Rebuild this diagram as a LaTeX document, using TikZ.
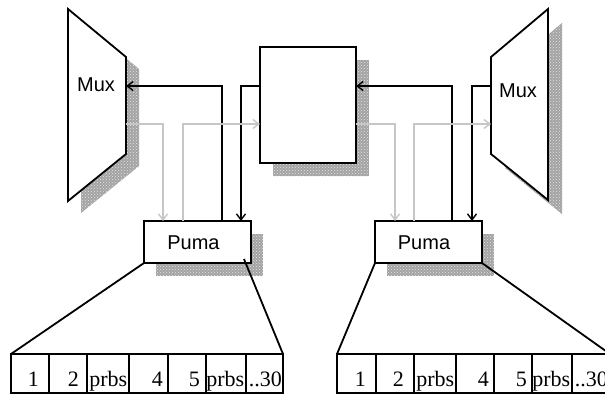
\documentclass[tikz,border=0pt]{standalone}
\usepackage{fontspec}
\setmainfont{Liberation Serif}
\newfontfamily\arialfont{Liberation Sans}
\usetikzlibrary{arrows.meta,patterns,calc}

\tikzset{
  blk/.style={line width=1.8pt, draw=black},
  gry/.style={line width=1.6pt, draw=gray!45},
  arr/.style={-{Straight Barb[length=6pt,width=9pt,line width=1.4pt]}},
  shade/.style={fill=gray!72},
  shadedots/.style={pattern=crosshatch dots, pattern color=white!80!gray},
  boxnode/.style={draw=black, line width=1.8pt, fill=white, inner sep=0pt, outer sep=0pt},
  sanslabel/.style={font=\arialfont\fontsize{20}{24}\selectfont, inner sep=0pt},
  cellbox/.style={draw=black, line width=1.8pt, inner sep=0pt, outer sep=0pt,
    minimum height=39pt, anchor=north west},
  celltext/.style={font=\fontsize{22}{26}\selectfont, inner sep=0pt, anchor=base east}
}

\begin{document}
\begin{tikzpicture}[x=1pt,y=-1pt]
\useasboundingbox (0,0) rectangle (605,397);
\clip (0,0) rectangle (605,397);

% ---- drop shadows ----
\foreach \s in {shade,shadedots}{
  \path[\s] (81,21) -- (139,69) -- (139,166) -- (81,213) -- cycle;
  \path[\s] (273,60) rectangle (369,176);
  \path[\s] (562,23) -- (505,71) -- (505,168) -- (562,214) -- cycle;
  \path[\s] (156,234) rectangle (263,276);
  \path[\s] (387,234) rectangle (494,276);
}

% ---- multiplexers ----
\coordinate (mL1) at (68,9);
\coordinate (mL2) at (126,57);
\coordinate (mL3) at (126,154);
\coordinate (mL4) at (68,201);
\filldraw[blk, fill=white, line join=miter] (mL1) -- (mL2) -- (mL3) -- (mL4) -- cycle;
\node[sanslabel] (muxLtxt) at (96,85) {Mux};

\coordinate (mR1) at (548,9);
\coordinate (mR2) at (491,57);
\coordinate (mR3) at (491,154);
\coordinate (mR4) at (548,200);
\filldraw[blk, fill=white, line join=miter] (mR1) -- (mR2) -- (mR3) -- (mR4) -- cycle;
\node[sanslabel] (muxRtxt) at (518,91) {Mux};

% ---- central block ----
\node[boxnode, minimum width=96pt, minimum height=116pt] (ctr) at (308,105) {};

% ---- Puma blocks ----
\node[boxnode, minimum width=107pt, minimum height=42pt] (pumaL) at (197.5,242) {};
\node[sanslabel] (pumaLtxt) at (193.5,243) {Puma};
\node[boxnode, minimum width=107pt, minimum height=42pt] (pumaR) at (428.5,242) {};
\node[sanslabel] (pumaRtxt) at (424,243) {Puma};

% ---- black control paths ----
\draw[blk,arr] (pumaL.north -| 222,0) |- (mL2 |- 0,86);
\draw[blk,arr] (ctr.west |- 0,86) -| (pumaL.north -| 241,0);
\draw[blk,arr] (pumaR.north -| 452,0) |- (ctr.east |- 0,86);
\draw[blk,arr] (mR2 |- 0,86) -| (pumaR.north -| 472,0);

% ---- grey data paths ----
\draw[gry,arr] (mL2 |- 0,124) -| (pumaL.north -| 163,0);
\draw[gry,arr] (pumaL.north -| 183,0) |- (ctr.west |- 0,124);
\draw[gry,arr] (ctr.east |- 0,124) -| (pumaR.north -| 395,0);
\draw[gry,arr] (pumaR.north -| 414,0) |- (mR2 |- 0,124);

% ---- frame tables ----
\foreach \name/\x/\w in {cL1/11/38, cL2/49/38, cL3/87/42, cL4/129/39, cL5/168/38, cL6/206/40, cL7/246/37,
                         cR1/337/39, cR2/376/38, cR3/414/42, cR4/456/38, cR5/494/38, cR6/532/40, cR7/572/38}{
  \node[cellbox, minimum width=\w pt] (\name) at (\x,354) {};
}
\node[celltext] (tL1) at (39,386) {1};
\node[celltext] (tL2) at (79,386) {2};
\node[celltext] (tL3) at (127.5,386) {prbs};
\node[celltext] (tL4) at (163,386) {4};
\node[celltext] (tL5) at (200,386) {5};
\node[celltext] (tL6) at (244.5,386) {prbs};
\node[celltext] (tL7) at (282,386) {..30};

\node[celltext] (tR1) at (366,386) {1};
\node[celltext] (tR2) at (404,386) {2};
\node[celltext] (tR3) at (454.5,386) {prbs};
\node[celltext] (tR4) at (489,386) {4};
\node[celltext] (tR5) at (527,386) {5};
\node[celltext] (tR6) at (570.5,386) {prbs};
\node[celltext] (tR7) at (608,386) {..30};

% ---- fan-out lines from Puma to its frame ----
\coordinate (pLtap) at (244,259);
\draw[blk] (pumaL.south west) -- (cL1.north west);
\draw[blk] (pLtap) -- (cL7.north east);
\draw[blk] (pumaR.south west) -- (cR1.north west);
\draw[blk] (pumaR.south east) -- (cR7.north east);
\end{tikzpicture}
\end{document}
